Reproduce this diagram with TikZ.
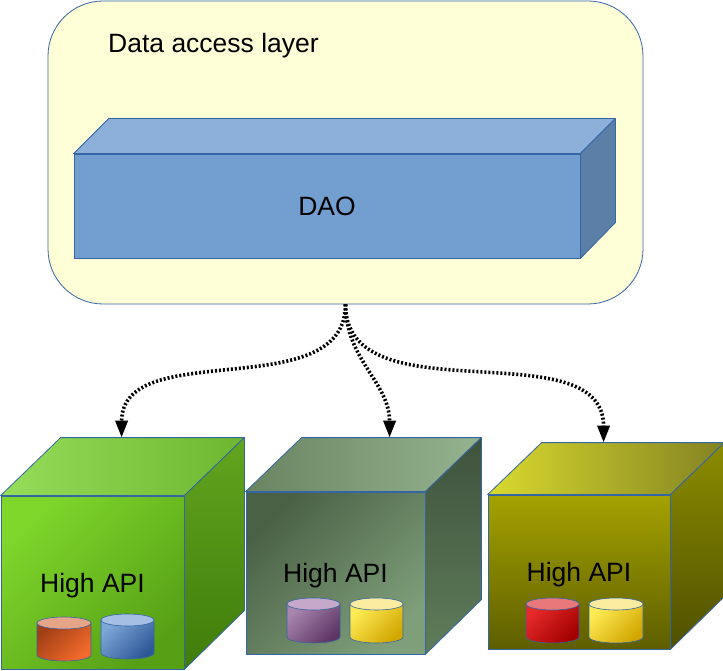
\documentclass[tikz,border=0pt]{standalone}
\usepackage{fontspec}
\setmainfont{Liberation Sans}
\usetikzlibrary{positioning, arrows.meta, calc}

\definecolor{edgeblue}{HTML}{3465A4}
\definecolor{layerfill}{HTML}{FFFFD7}
\definecolor{daofront}{HTML}{729FCF}
\definecolor{daotop}{HTML}{8CB0DA}
\definecolor{daoside}{HTML}{5C7FA8}
\definecolor{greenFrontA}{HTML}{7ED62B}
\definecolor{greenFrontB}{HTML}{57A016}
\definecolor{greenTopA}{HTML}{96DD5A}
\definecolor{greenTopB}{HTML}{6DB72F}
\definecolor{greenSideA}{HTML}{62A51F}
\definecolor{greenSideB}{HTML}{3F7C0A}
\definecolor{grayFrontA}{HTML}{4B6146}
\definecolor{grayFrontB}{HTML}{7E9F7A}
\definecolor{grayTopA}{HTML}{6A8462}
\definecolor{grayTopB}{HTML}{95B38E}
\definecolor{graySideA}{HTML}{3F523D}
\definecolor{graySideB}{HTML}{5F7D5A}
\definecolor{oliveFrontA}{HTML}{A4A200}
\definecolor{oliveFrontB}{HTML}{5E5E00}
\definecolor{oliveTopA}{HTML}{D9D92F}
\definecolor{oliveTopB}{HTML}{838322}
\definecolor{oliveSideA}{HTML}{8C8C00}
\definecolor{oliveSideB}{HTML}{4F5000}
\definecolor{orangeA}{HTML}{A23F16}
\definecolor{orangeB}{HTML}{F46B2C}
\definecolor{orangeTop}{HTML}{E6A488}
\definecolor{blueA}{HTML}{7EA6D8}
\definecolor{blueB}{HTML}{2D5896}
\definecolor{blueTop}{HTML}{A4BFE3}
\definecolor{purpleA}{HTML}{A886AE}
\definecolor{purpleB}{HTML}{5E3565}
\definecolor{purpleTop}{HTML}{C6A8CB}
\definecolor{yellowA}{HTML}{FFEB55}
\definecolor{yellowB}{HTML}{D1A600}
\definecolor{yellowTop}{HTML}{F9EC9F}
\definecolor{redA}{HTML}{E62A2A}
\definecolor{redB}{HTML}{A30000}
\definecolor{redTop}{HTML}{E9787B}

\begin{document}
\begin{tikzpicture}[
        x=1pt, y=-1pt,
        layerbox/.style={draw=edgeblue, fill=layerfill, line width=0.8pt, rounded corners=55pt, minimum width=595pt, minimum height=303pt, inner sep=0pt},
        sideface/.style={draw=edgeblue, line width=0.8pt, line join=round},
        frontface/.style={sideface, inner sep=0pt, font=\fontsize{26.5}{31}\selectfont},
        dbcyl/.style={draw=edgeblue, line width=0.6pt},
        flowarrow/.style={line width=3.6pt, dash pattern=on 2pt off 2pt, -{Triangle[width=12pt, length=17pt]}}
    ]

    \useasboundingbox (0,0) rectangle (723,671);
    \fill[white] (0,0) rectangle (723,671);

    % Data access layer with the DAO box
    \node[layerbox] (layer) at (345.5,152.5) {};
    \node[anchor=west, inner sep=0pt, font=\fontsize{26.5}{31}\selectfont] (title) at (108,46) {Data access layer};

    \node[frontface, fill=daofront, minimum width=506pt, minimum height=104pt] (dao) at (327,206) {DAO};
    \draw[sideface, fill=daotop] (dao.north west) -- ++(35,-35) -- ($(dao.north east)+(35,-35)$) -- (dao.north east) -- cycle;
    \draw[sideface, fill=daoside] (dao.north east) -- ++(35,-35) -- ++(0,104) -- (dao.south east) -- cycle;

    % Green cube
    \node[frontface, top color=greenFrontA, bottom color=greenFrontB, shading angle=45, minimum width=183pt, minimum height=173pt, text depth=-3pt] (api1) at (92.5,582.5) {High API};
    \draw[sideface, left color=greenTopA, right color=greenTopB] (api1.north west) -- ++(60,-58) -- ($(api1.north east)+(60,-58)$) -- (api1.north east) -- cycle;
    \draw[sideface, top color=greenSideA, bottom color=greenSideB] (api1.north east) -- ++(60,-58) -- ++(0,173) -- (api1.south east) -- cycle;

    % Grey cube
    \node[frontface, top color=grayFrontA, bottom color=grayFrontB, shading angle=45, minimum width=179pt, minimum height=162pt, text depth=-3pt] (api2) at (335.5,573) {High API};
    \draw[sideface, left color=grayTopA, right color=grayTopB] (api2.north west) -- ++(56,-54) -- ($(api2.north east)+(56,-54)$) -- (api2.north east) -- cycle;
    \draw[sideface, top color=graySideA, bottom color=graySideB] (api2.north east) -- ++(56,-54) -- ++(0,162) -- (api2.south east) -- cycle;

    % Olive cube
    \node[frontface, top color=oliveFrontA, bottom color=oliveFrontB, minimum width=182pt, minimum height=154pt, text depth=-3pt] (api3) at (579,572) {High API};
    \draw[sideface, left color=oliveTopA, right color=oliveTopB] (api3.north west) -- ++(54,-52) -- ($(api3.north east)+(54,-52)$) -- (api3.north east) -- cycle;
    \draw[sideface, top color=oliveSideA, bottom color=oliveSideB] (api3.north east) -- ++(54,-52) -- ++(0,154) -- (api3.south east) -- cycle;

    % Databases
    \draw[dbcyl, top color=orangeA, bottom color=orangeB, shading angle=45] (37,623) -- (37,655) arc[start angle=180, end angle=360, x radius=27pt, y radius=6pt] -- (91,623) -- cycle;
    \draw[dbcyl, fill=orangeTop] (64,623) ellipse[x radius=27pt, y radius=6pt];
    \draw[dbcyl, top color=blueA, bottom color=blueB, shading angle=45] (101,620) -- (101,653) arc[start angle=180, end angle=360, x radius=26.5pt, y radius=6pt] -- (154,620) -- cycle;
    \draw[dbcyl, fill=blueTop] (127.5,620) ellipse[x radius=26.5pt, y radius=6pt];

    \draw[dbcyl, top color=purpleA, bottom color=purpleB, shading angle=45] (287,604) -- (287,637) arc[start angle=180, end angle=360, x radius=26.5pt, y radius=6pt] -- (340,604) -- cycle;
    \draw[dbcyl, fill=purpleTop] (313.5,604) ellipse[x radius=26.5pt, y radius=6pt];
    \draw[dbcyl, top color=yellowA, bottom color=yellowB, shading angle=45] (350,604) -- (350,637) arc[start angle=180, end angle=360, x radius=26.5pt, y radius=6pt] -- (403,604) -- cycle;
    \draw[dbcyl, fill=yellowTop] (376.5,604) ellipse[x radius=26.5pt, y radius=6pt];

    \draw[dbcyl, top color=redA, bottom color=redB, shading angle=45] (526,604) -- (526,637) arc[start angle=180, end angle=360, x radius=26.5pt, y radius=6pt] -- (579,604) -- cycle;
    \draw[dbcyl, fill=redTop] (552.5,604) ellipse[x radius=26.5pt, y radius=6pt];
    \draw[dbcyl, top color=yellowA, bottom color=yellowB, shading angle=45] (589,604) -- (589,637) arc[start angle=180, end angle=360, x radius=27pt, y radius=6pt] -- (643,604) -- cycle;
    \draw[dbcyl, fill=yellowTop] (616,604) ellipse[x radius=27pt, y radius=6pt];

    % Dotted arrows to the cubes
    \coordinate (in1) at ($(api1.north west)+(121,-58)$);
    \coordinate (in2) at ($(api2.north west)+(144,-54)$);
    \coordinate (in3) at ($(api3.north west)+(116,-52)$);

    \draw[flowarrow] (layer.south) to[out=-90, in=90] (in1);
    \draw[flowarrow] (layer.south) to[out=-90, in=90] (in2);
    \draw[flowarrow] (layer.south) to[out=-90, in=90] (in3);

\end{tikzpicture}
\end{document}
